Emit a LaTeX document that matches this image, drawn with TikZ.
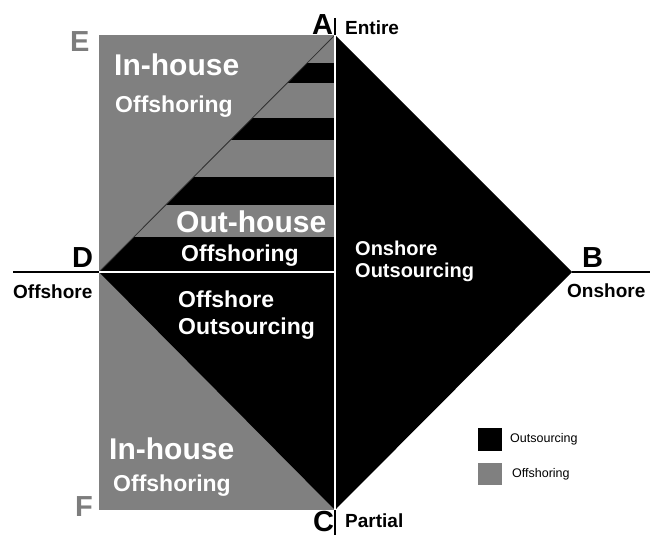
\documentclass[tikz,border=0pt]{standalone}
\usepackage{fontspec}
\setmainfont{Liberation Sans}
\definecolor{offgray}{RGB}{128,128,128}
\definecolor{lettergray}{RGB}{125,125,125}
\tikzset{
  bigword/.style={font=\fontsize{30}{30}\selectfont\bfseries, text=white, anchor=base west, inner sep=0pt},
  midword/.style={font=\fontsize{23}{23}\selectfont\bfseries, text=white, anchor=base west, inner sep=0pt},
  smallword/.style={font=\fontsize{20}{20}\selectfont\bfseries, text=white, anchor=base west, inner sep=0pt},
  corner/.style={font=\fontsize{29}{29}\selectfont\bfseries, anchor=base west, inner sep=0pt},
  axisword/.style={font=\fontsize{19}{19}\selectfont\bfseries, anchor=base west, inner sep=0pt},
  legendword/.style={font=\fontsize{12.5}{12.5}\selectfont, anchor=west, inner sep=0pt}
}
\begin{document}
\begin{tikzpicture}[x=1pt,y=-1pt]
\useasboundingbox (0,0) rectangle (656,535);

\coordinate (A) at (335,35);
\coordinate (B) at (572,272);
\coordinate (C) at (335,510);
\coordinate (D) at (99,272);
\coordinate (O) at (335,272);

% gray block and black diamond
\fill[offgray] (99,35) rectangle (335,510);
\fill[black] (A) -- (B) -- (C) -- (D) -- cycle;

% stripes in the upper left triangle
\begin{scope}
\clip (A) -- (D) -- (O) -- cycle;
\foreach \ya/\yb in {35/63, 83/118, 140/177, 205/237}
  \fill[offgray] (99,\ya) rectangle (335,\yb);
\end{scope}
\draw[black!80, line width=0.8pt] (D) -- (A);

\draw[white, line width=1.5pt] (A) -- (C);
\draw[white, line width=1.5pt] (D) -- (O);

% axes
\draw[line width=1.3pt] (13,272) -- (D);
\draw[line width=1.3pt] (B) -- (650,272);
\draw[line width=1.3pt] (335,18) -- (A);
\draw[line width=1.3pt] (C) -- (335,535);

% corner letters
\node[corner] (lA) at (312,35) {A};
\node[corner] (lB) at (582,267) {B};
\node[corner] (lC) at (313,531) {C};
\node[corner] (lD) at (72,267) {D};
\node[corner, text=lettergray] (lE) at (70,52) {E};
\node[corner, text=lettergray] (lF) at (75,516) {F};

\node[axisword] (entire) at (345,35) {Entire};
\node[axisword] (partial) at (345,527) {Partial};
\node[axisword] (offshore) at (13,298) {Offshore};
\node[axisword] (onshore) at (567,297) {Onshore};

% region texts
\node[bigword] (inTop) at (114,75) {In-house};
\node[midword] (offTop) at (115,112) {Offshoring};
\node[bigword] (outMid) at (176,232) {Out-house};
\node[midword] (offMid) at (181,261) {Offshoring};
\node[midword] (offshoreOut1) at (178,307) {Offshore};
\node[midword] (offshoreOut2) at (178,334) {Outsourcing};
\node[smallword] (onshoreOut1) at (355,255) {Onshore};
\node[smallword] (onshoreOut2) at (355,277) {Outsourcing};
\node[bigword] (inLow) at (109,459) {In-house};
\node[midword] (offLow) at (113,491) {Offshoring};

% legend
\fill[black] (478,428) rectangle (502,451);
\fill[offgray] (478,463) rectangle (502,485);
\node[legendword] (legOut) at (510,439.5) {Outsourcing};
\node[legendword] (legOff) at (512,474) {Offshoring};
\end{tikzpicture}
\end{document}
